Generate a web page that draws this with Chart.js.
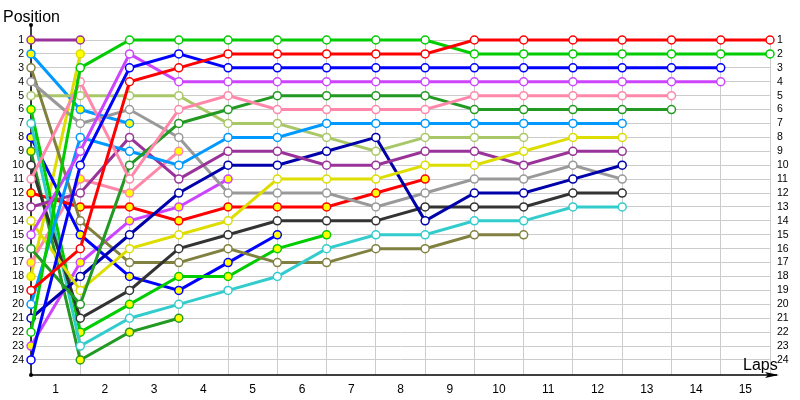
<!DOCTYPE html>
<html>
<head>
<meta charset="utf-8">
<script src="https://cdn.jsdelivr.net/npm/chart.js@4"></script>
<style>
  html, body { margin: 0; padding: 0; background: #fff; }
</style>
</head>
<body>
<canvas id="chart" width="800" height="400"></canvas>
<script>
// position at each lap, lap 0 = grid
const red        = [19, 16, 4, 3, 2, 2, 2, 2, 2, 1, 1, 1, 1, 1, 1, 1];
const green      = [22, 3, 1, 1, 1, 1, 1, 1, 1, 2, 2, 2, 2, 2, 2, 2];
const blue       = [24, 10, 3, 2, 3, 3, 3, 3, 3, 3, 3, 3, 3, 3, 3];
const violet     = [15, 9, 2, 4, 4, 4, 4, 4, 4, 4, 4, 4, 4, 4, 4];
const pink       = [11, 4, 11, 6, 5, 6, 6, 6, 6, 5, 5, 5, 5, 5];
const darkGreen  = [16, 20, 10, 7, 6, 5, 5, 5, 5, 6, 6, 6, 6, 6];
const lightBlue  = [20, 8, 9, 10, 8, 8, 7, 7, 7, 7, 7, 7, 7];
const yellow     = [14, 19, 16, 15, 14, 11, 11, 11, 10, 10, 9, 8, 8];
const purple     = [13, 12, 8, 11, 9, 9, 10, 10, 9, 9, 10, 9, 9];
const navy       = [21, 18, 15, 12, 10, 10, 9, 8, 14, 12, 12, 11, 10];
const gray       = [4, 7, 6, 8, 12, 12, 12, 13, 12, 11, 11, 10, 11];
const darkGray   = [10, 21, 19, 16, 15, 14, 14, 14, 13, 13, 13, 12, 12];
const cyan       = [7, 23, 21, 20, 19, 18, 16, 15, 15, 14, 14, 13, 13];
const olive      = [3, 14, 17, 17, 16, 17, 17, 16, 16, 15, 15];
const lightGreen = [5, 5, 5, 5, 7, 7, 8, 9, 8, 8, 8];

// cars that retired (drawn with yellow markers)
const redOut       = [12, 13, 13, 14, 13, 13, 13, 12, 11];
const greenOut     = [6, 22, 20, 18, 18, 16, 15];
const blueOut      = [8, 15, 18, 19, 17, 15];
const violetOut    = [23, 17, 14, 13, 11];
const pinkOut      = [17, 11, 12, 9];
const darkGreenOut = [9, 24, 22, 21];
const lightBlueOut = [2, 6, 7];
const yellowOut    = [18, 2];
const purpleOut    = [1, 1];

const lapLabels = ["1","2","3","4","5","6","7","8","9","10","11","12","13","14","15"];
const positions = [1,2,3,4,5,6,7,8,9,10,11,12,13,14,15,16,17,18,19,20,21,22,23,24];

const drivers = [
  [red, "#ff0000", false],
  [green, "#00cc00", false],
  [blue, "#0000ff", false],
  [violet, "#cc44ff", false],
  [pink, "#ff88aa", false],
  [darkGreen, "#229922", false],
  [lightBlue, "#0099ff", false],
  [yellow, "#dddd00", false],
  [purple, "#993399", false],
  [navy, "#0000aa", false],
  [gray, "#999999", false],
  [darkGray, "#333333", false],
  [cyan, "#33cccc", false],
  [olive, "#808040", false],
  [lightGreen, "#a8c868", false],
  [redOut, "#ff0000", true],
  [greenOut, "#00cc00", true],
  [blueOut, "#0000ff", true],
  [violetOut, "#cc44ff", true],
  [pinkOut, "#ff88aa", true],
  [darkGreenOut, "#229922", true],
  [lightBlueOut, "#0099ff", true],
  [yellowOut, "#dddd00", true],
  [purpleOut, "#993399", true]
];

const FONT = "Liberation Sans";

const datasets = drivers.map(([pos, color, out]) => ({
  data: pos.map((p, i) => ({ x: i, y: p })),
  borderColor: color,
  backgroundColor: color,
  borderWidth: 3,
  pointRadius: 4,
  pointBorderWidth: 1.5,
  pointBorderColor: color,
  pointBackgroundColor: out ? "#ffff00" : "#ffffff",
  tension: 0,
  clip: false
}));

const axesPlugin = {
  id: "axes",
  beforeDatasetsDraw(chart) {
    const { ctx, chartArea: a } = chart;
    ctx.save();
    ctx.strokeStyle = "#000";
    ctx.fillStyle = "#000";
    ctx.lineWidth = 1.5;
    ctx.beginPath();
    ctx.moveTo(a.left, 25);
    ctx.lineTo(a.left, a.bottom);
    ctx.lineTo(777, a.bottom);
    ctx.stroke();
    ctx.beginPath();
    ctx.moveTo(779, a.bottom);
    ctx.lineTo(765, a.bottom - 3);
    ctx.lineTo(768, a.bottom);
    ctx.lineTo(765, a.bottom + 3);
    ctx.closePath();
    ctx.fill();
    ctx.beginPath();
    ctx.arc(a.left, 25, 2, 0, Math.PI * 2);
    ctx.fill();
    ctx.beginPath();
    ctx.arc(a.left, a.bottom, 2, 0, Math.PI * 2);
    ctx.fill();
    ctx.restore();
  },
  afterDraw(chart) {
    const ctx = chart.ctx;
    ctx.save();
    ctx.fillStyle = "#000";
    ctx.textBaseline = "alphabetic";
    ctx.font = "16px '" + FONT + "'";
    ctx.fillText("Position", 3, 22);
    ctx.fillText("Laps", 743, 370);
    ctx.restore();
  }
};

const yTicks = s => { s.ticks = positions.map(v => ({ value: v })); };

new Chart(document.getElementById("chart"), {
  type: "line",
  data: { datasets },
  options: {
    responsive: false,
    animation: false,
    layout: { padding: { top: 40, left: 0, right: 0, bottom: 0 } },
    plugins: { legend: { display: false }, tooltip: { enabled: false } },
    scales: {
      x: {
        type: "linear",
        min: 0,
        max: 15,
        afterBuildTicks: s => {
          s.ticks = [];
          for (let v = 0; v <= 15; v += 0.5) s.ticks.push({ value: v });
        },
        afterFit: s => { s.height = 25; },
        grid: {
          color: c => Number.isInteger(c.tick.value) ? "#cccccc" : "rgba(0,0,0,0)",
          drawTicks: false
        },
        border: { display: false },
        ticks: {
          autoSkip: false,
          maxRotation: 0,
          padding: 7,
          color: "#000",
          font: { family: FONT, size: 12 },
          callback: v => Number.isInteger(v) ? "" : lapLabels[Math.floor(v)]
        }
      },
      y: {
        type: "linear",
        position: "left",
        reverse: true,
        min: 1,
        max: 25.08,
        afterBuildTicks: yTicks,
        afterFit: s => { s.width = 31; },
        grid: { color: "#cccccc", drawTicks: false },
        border: { display: false },
        ticks: { autoSkip: false, padding: 7, color: "#000", font: { family: FONT, size: 10.5 } }
      },
      y2: {
        type: "linear",
        position: "right",
        reverse: true,
        min: 1,
        max: 25.08,
        afterBuildTicks: yTicks,
        afterFit: s => { s.width = 30; },
        grid: { display: false, drawTicks: false },
        border: { display: false },
        ticks: { autoSkip: false, padding: 7, color: "#000", font: { family: FONT, size: 10.5 } }
      }
    }
  },
  plugins: [axesPlugin]
});
</script>
</body>
</html>
